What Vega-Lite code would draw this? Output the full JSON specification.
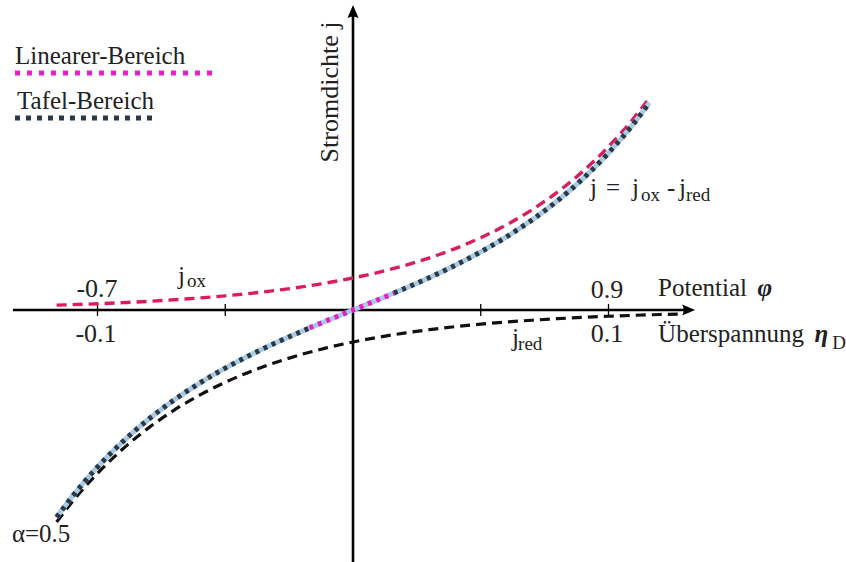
{
  "$schema": "https://vega.github.io/schema/vega-lite/v6.json",
  "width": 846,
  "height": 562,
  "padding": 0,
  "autosize": {"type": "none"},
  "background": "white",
  "config": {"view": {"stroke": null}},
  "datasets": {
    "axes": [
      {"x": -0.1331, "x2": 0.1319, "y": 0, "y2": 0},
      {"x": 0, "x2": 0, "y": 9.4, "y2": -7.875}
    ],
    "ticks": [
      {"x": -0.1, "y": -0.19, "y2": 0.19},
      {"x": -0.05, "y": -0.19, "y2": 0.19},
      {"x": 0.05, "y": -0.19, "y2": 0.19},
      {"x": 0.1, "y": -0.19, "y2": 0.19}
    ],
    "arrowx": [{"x": 0.1339, "y": 0}],
    "arrowy": [{"x": 0, "y": 9.53}],
    "curves": [
      {"s": "ox", "x": -0.116, "y": 0.151},
      {"s": "ox", "x": -0.11, "y": 0.1665},
      {"s": "ox", "x": -0.1, "y": 0.196},
      {"s": "ox", "x": -0.09, "y": 0.231},
      {"s": "ox", "x": -0.08, "y": 0.271},
      {"s": "ox", "x": -0.07, "y": 0.32},
      {"s": "ox", "x": -0.06, "y": 0.376},
      {"s": "ox", "x": -0.05, "y": 0.443},
      {"s": "ox", "x": -0.04, "y": 0.521},
      {"s": "ox", "x": -0.03, "y": 0.613},
      {"s": "ox", "x": -0.02, "y": 0.722},
      {"s": "ox", "x": -0.01, "y": 0.85},
      {"s": "ox", "x": 0, "y": 1},
      {"s": "ox", "x": 0.01, "y": 1.177},
      {"s": "ox", "x": 0.02, "y": 1.385},
      {"s": "ox", "x": 0.03, "y": 1.631},
      {"s": "ox", "x": 0.04, "y": 1.919},
      {"s": "ox", "x": 0.05, "y": 2.259},
      {"s": "ox", "x": 0.06, "y": 2.659},
      {"s": "ox", "x": 0.07, "y": 3.13},
      {"s": "ox", "x": 0.08, "y": 3.684},
      {"s": "ox", "x": 0.09, "y": 4.336},
      {"s": "ox", "x": 0.1, "y": 5.104},
      {"s": "ox", "x": 0.11, "y": 6.007},
      {"s": "ox", "x": 0.116, "y": 6.626},
      {"s": "red", "x": -0.116, "y": -6.626},
      {"s": "red", "x": -0.11, "y": -6.007},
      {"s": "red", "x": -0.1, "y": -5.104},
      {"s": "red", "x": -0.09, "y": -4.336},
      {"s": "red", "x": -0.08, "y": -3.684},
      {"s": "red", "x": -0.07, "y": -3.13},
      {"s": "red", "x": -0.06, "y": -2.659},
      {"s": "red", "x": -0.05, "y": -2.259},
      {"s": "red", "x": -0.04, "y": -1.919},
      {"s": "red", "x": -0.03, "y": -1.631},
      {"s": "red", "x": -0.02, "y": -1.385},
      {"s": "red", "x": -0.01, "y": -1.177},
      {"s": "red", "x": 0, "y": -1},
      {"s": "red", "x": 0.01, "y": -0.85},
      {"s": "red", "x": 0.02, "y": -0.722},
      {"s": "red", "x": 0.03, "y": -0.613},
      {"s": "red", "x": 0.04, "y": -0.521},
      {"s": "red", "x": 0.05, "y": -0.443},
      {"s": "red", "x": 0.06, "y": -0.376},
      {"s": "red", "x": 0.07, "y": -0.32},
      {"s": "red", "x": 0.08, "y": -0.271},
      {"s": "red", "x": 0.09, "y": -0.231},
      {"s": "red", "x": 0.1, "y": -0.196},
      {"s": "red", "x": 0.11, "y": -0.1665},
      {"s": "red", "x": 0.12, "y": -0.1414},
      {"s": "red", "x": 0.128, "y": -0.124},
      {"s": "tot", "x": -0.116, "y": -6.475},
      {"s": "tot", "x": -0.11, "y": -5.841},
      {"s": "tot", "x": -0.1, "y": -4.908},
      {"s": "tot", "x": -0.09, "y": -4.105},
      {"s": "tot", "x": -0.08, "y": -3.412},
      {"s": "tot", "x": -0.07, "y": -2.81},
      {"s": "tot", "x": -0.06, "y": -2.283},
      {"s": "tot", "x": -0.05, "y": -1.817},
      {"s": "tot", "x": -0.04, "y": -1.398},
      {"s": "tot", "x": -0.03, "y": -1.017},
      {"s": "tot", "x": -0.02, "y": -0.664},
      {"s": "tot", "x": -0.01, "y": -0.327},
      {"s": "tot", "x": 0, "y": 0},
      {"s": "tot", "x": 0.01, "y": 0.327},
      {"s": "tot", "x": 0.02, "y": 0.664},
      {"s": "tot", "x": 0.03, "y": 1.017},
      {"s": "tot", "x": 0.04, "y": 1.398},
      {"s": "tot", "x": 0.05, "y": 1.817},
      {"s": "tot", "x": 0.06, "y": 2.283},
      {"s": "tot", "x": 0.07, "y": 2.81},
      {"s": "tot", "x": 0.08, "y": 3.412},
      {"s": "tot", "x": 0.09, "y": 4.105},
      {"s": "tot", "x": 0.1, "y": 4.908},
      {"s": "tot", "x": 0.11, "y": 5.841},
      {"s": "tot", "x": 0.116, "y": 6.475},
      {"s": "tl", "x": -0.116, "y": -6.475},
      {"s": "tl", "x": -0.11, "y": -5.841},
      {"s": "tl", "x": -0.1, "y": -4.908},
      {"s": "tl", "x": -0.09, "y": -4.105},
      {"s": "tl", "x": -0.08, "y": -3.412},
      {"s": "tl", "x": -0.07, "y": -2.81},
      {"s": "tl", "x": -0.06, "y": -2.283},
      {"s": "tl", "x": -0.05, "y": -1.817},
      {"s": "tl", "x": -0.04, "y": -1.398},
      {"s": "tl", "x": -0.03, "y": -1.017},
      {"s": "tl", "x": -0.02, "y": -0.664},
      {"s": "tl", "x": -0.017, "y": -0.561},
      {"s": "tr", "x": 0.016, "y": 0.5275},
      {"s": "tr", "x": 0.02, "y": 0.664},
      {"s": "tr", "x": 0.03, "y": 1.017},
      {"s": "tr", "x": 0.04, "y": 1.398},
      {"s": "tr", "x": 0.05, "y": 1.817},
      {"s": "tr", "x": 0.06, "y": 2.283},
      {"s": "tr", "x": 0.07, "y": 2.81},
      {"s": "tr", "x": 0.08, "y": 3.412},
      {"s": "tr", "x": 0.09, "y": 4.105},
      {"s": "tr", "x": 0.1, "y": 4.908},
      {"s": "tr", "x": 0.11, "y": 5.841},
      {"s": "tr", "x": 0.116, "y": 6.475},
      {"s": "lin", "x": -0.017, "y": -0.554},
      {"s": "lin", "x": 0, "y": 0},
      {"s": "lin", "x": 0.016, "y": 0.522}
    ],
    "legend": [
      {"s": "lin", "x": -0.1323, "x2": -0.0528, "y": 7.41},
      {"s": "taf", "x": -0.1323, "x2": -0.0775, "y": 6.0}
    ],
    "maintext": [
      {"t": "Linearer-Bereich", "x": -0.1323, "y": 7.6875},
      {"t": "Tafel-Bereich", "x": -0.1315, "y": 6.28},
      {"t": "Potential", "x": 0.1194, "y": 0.4375},
      {"t": "Überspannung", "x": 0.1194, "y": -1.0},
      {"t": "j", "x": -0.0685, "y": 0.8125},
      {"t": "j", "x": 0.0622, "y": -1.125},
      {"t": "j", "x": 0.0928, "y": 3.5625},
      {"t": "=", "x": 0.099, "y": 3.5625},
      {"t": "j", "x": 0.1092, "y": 3.5625},
      {"t": "-", "x": 0.1229, "y": 3.5625},
      {"t": "j", "x": 0.1276, "y": 3.5625},
      {"t": "α=0.5", "x": -0.1335, "y": -7.25}
    ],
    "numtext": [
      {"t": "-0.7", "x": -0.1002, "y": 0.406},
      {"t": "-0.1", "x": -0.1006, "y": -1.0},
      {"t": "0.9", "x": 0.0994, "y": 0.375},
      {"t": "0.1", "x": 0.0994, "y": -1.0}
    ],
    "subtext": [
      {"t": "ox", "x": -0.065, "y": 0.72},
      {"t": "red", "x": 0.0646, "y": -1.25},
      {"t": "ox", "x": 0.1127, "y": 3.406},
      {"t": "red", "x": 0.1303, "y": 3.406},
      {"t": "D", "x": 0.1876, "y": -1.22}
    ],
    "symtext": [
      {"t": "φ", "x": 0.1583, "y": 0.4375},
      {"t": "η", "x": 0.1806, "y": -1.0}
    ],
    "ylabel": [
      {"t": "Stromdichte j", "x": -0.0059, "y": 6.8125}
    ]
  },
  "encoding": {
    "x": {"field": "x", "type": "quantitative", "scale": {"domain": [-0.13816, 0.19295], "nice": false, "zero": false}, "axis": null},
    "y": {"field": "y", "type": "quantitative", "scale": {"domain": [-7.875, 9.6875], "nice": false, "zero": false}, "axis": null}
  },
  "layer": [
    {
      "data": {"name": "axes"},
      "mark": {"type": "rule", "color": "#000000", "strokeWidth": 2.6},
      "encoding": {"x2": {"field": "x2"}, "y2": {"field": "y2"}}
    },
    {
      "data": {"name": "ticks"},
      "mark": {"type": "rule", "color": "#000000", "strokeWidth": 1.3},
      "encoding": {"y2": {"field": "y2"}}
    },
    {
      "data": {"name": "arrowx"},
      "mark": {"type": "point", "shape": "M0,0L-2,-0.85Q-1.5,0,-2,0.85Z", "size": 169, "filled": true, "color": "#000000", "opacity": 1}
    },
    {
      "data": {"name": "arrowy"},
      "mark": {"type": "point", "shape": "M0,0L-0.85,2Q0,1.5,0.85,2Z", "size": 169, "filled": true, "color": "#000000", "opacity": 1}
    },
    {
      "data": {"name": "curves"},
      "transform": [{"filter": "datum.s === 'red'"}],
      "mark": {"type": "line", "interpolate": "monotone", "color": "#111111", "strokeWidth": 3.2, "strokeDash": [10, 6]}
    },
    {
      "data": {"name": "curves"},
      "transform": [{"filter": "datum.s === 'ox'"}],
      "mark": {"type": "line", "interpolate": "monotone", "color": "#dc1d5c", "strokeWidth": 3.4, "strokeDash": [10, 6]}
    },
    {
      "data": {"name": "curves"},
      "transform": [{"filter": "datum.s === 'tot'"}],
      "mark": {"type": "line", "interpolate": "monotone", "color": "#a8cbe4", "strokeWidth": 5}
    },
    {
      "data": {"name": "curves"},
      "transform": [{"filter": "datum.s === 'tl' || datum.s === 'tr'"}],
      "mark": {"type": "line", "interpolate": "monotone", "color": "#2b3848", "strokeWidth": 5, "strokeDash": [4, 5]},
      "encoding": {"detail": {"field": "s"}}
    },
    {
      "data": {"name": "curves"},
      "transform": [{"filter": "datum.s === 'lin'"}],
      "mark": {"type": "line", "color": "#e41fc8", "strokeWidth": 5, "strokeDash": [4, 5]}
    },
    {
      "data": {"name": "legend"},
      "transform": [{"filter": "datum.s === 'lin'"}],
      "mark": {"type": "rule", "color": "#e41fc8", "strokeWidth": 5, "strokeDash": [5, 7]},
      "encoding": {"x2": {"field": "x2"}}
    },
    {
      "data": {"name": "legend"},
      "transform": [{"filter": "datum.s === 'taf'"}],
      "mark": {"type": "rule", "color": "#2b3848", "strokeWidth": 5, "strokeDash": [5, 6]},
      "encoding": {"x2": {"field": "x2"}}
    },
    {
      "data": {"name": "maintext"},
      "mark": {"type": "text", "align": "left", "baseline": "alphabetic", "font": "Liberation Serif", "fontSize": 25, "color": "#222222"},
      "encoding": {"text": {"field": "t"}}
    },
    {
      "data": {"name": "numtext"},
      "mark": {"type": "text", "align": "center", "baseline": "alphabetic", "font": "Liberation Serif", "fontSize": 26, "color": "#222222"},
      "encoding": {"text": {"field": "t"}}
    },
    {
      "data": {"name": "subtext"},
      "mark": {"type": "text", "align": "left", "baseline": "alphabetic", "font": "Liberation Serif", "fontSize": 19, "color": "#222222"},
      "encoding": {"text": {"field": "t"}}
    },
    {
      "data": {"name": "symtext"},
      "mark": {"type": "text", "align": "left", "baseline": "alphabetic", "font": "Liberation Serif", "fontSize": 25, "fontWeight": "bold", "fontStyle": "italic", "color": "#222222"},
      "encoding": {"text": {"field": "t"}}
    },
    {
      "data": {"name": "ylabel"},
      "mark": {"type": "text", "align": "center", "baseline": "alphabetic", "angle": 270, "font": "Liberation Serif", "fontSize": 26, "color": "#222222"},
      "encoding": {"text": {"field": "t"}}
    }
  ]
}
